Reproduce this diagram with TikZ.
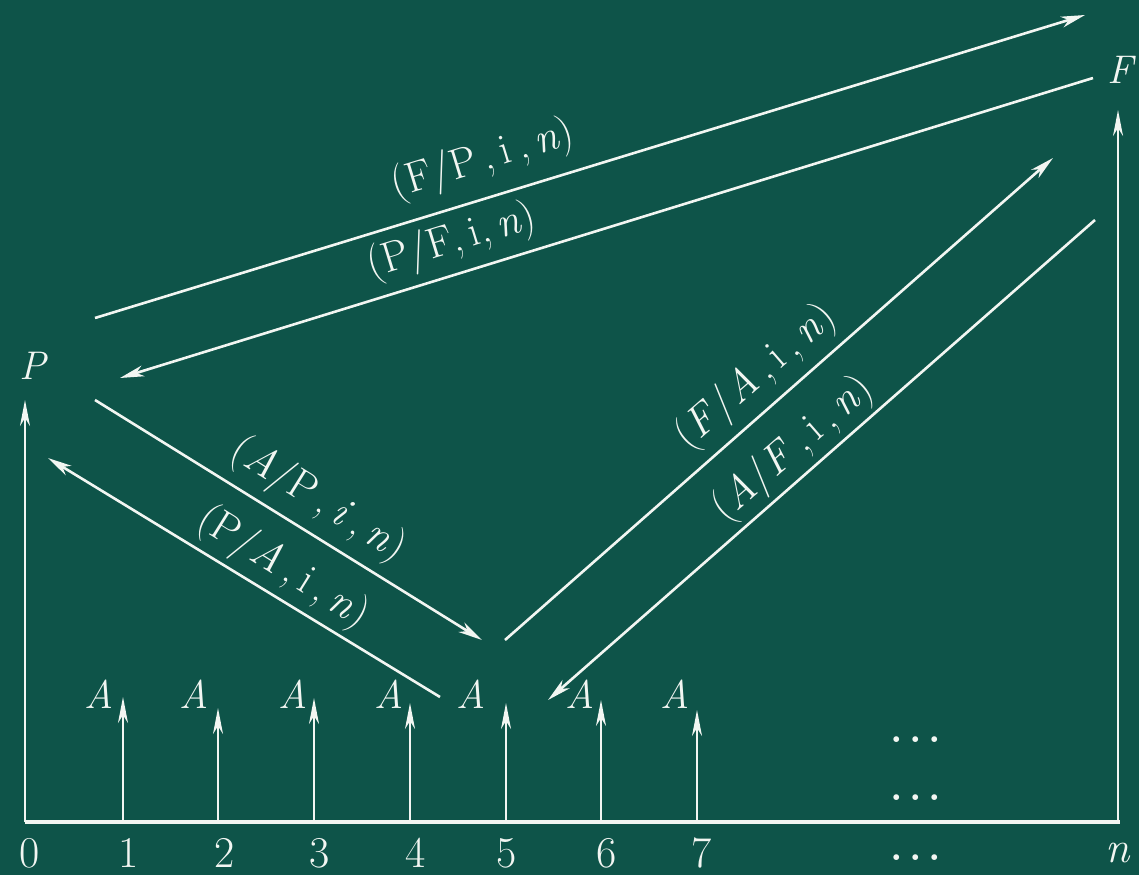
\documentclass[tikz,border=0pt]{standalone}
\usetikzlibrary{arrows.meta}
\definecolor{board}{RGB}{14,84,73}
\definecolor{chalk}{RGB}{242,246,242}
\begin{document}
\begin{tikzpicture}[x=1pt,y=-1pt,
  chalkline/.style={draw=chalk, line width=2.6pt},
  bigarr/.style={chalkline, -{Stealth[length=24pt,width=11pt,inset=7pt]}},
  smallarr/.style={chalkline, line width=2.4pt, -{Stealth[length=26pt,width=10pt,inset=8pt]}},
  lbl/.style={text=chalk, inner sep=0pt, font=\fontsize{43}{45}\selectfont},
  tick/.style={text=chalk, inner sep=0pt, font=\fontsize{44}{46}\selectfont},
  aval/.style={text=chalk, inner sep=0pt, font=\fontsize{40}{42}\selectfont\itshape},
  dots/.style={text=chalk, inner sep=0pt, font=\fontsize{40}{42}\selectfont\bfseries}]
\fill[board] (0,0) rectangle (1139,875);
\useasboundingbox (0,0) rectangle (1139,875);

% axis
\coordinate (o) at (25,822);
\coordinate (e) at (1120,822);
\draw[chalk, line width=4.5pt] (o) -- (e);

% verticals
\coordinate (ptip) at (25,400);
\coordinate (ftip) at (1118,110);
\coordinate (ebase) at (1118,822);
\draw[smallarr] (o) -- (ptip);
\draw[smallarr] (ebase) -- (ftip);
\node[aval] (P) at (33,366) {P};
\node[aval] (F) at (1120,70) {F};

% small arrows
\foreach \i/\x/\t/\ax in {1/123/697/99, 2/218/708/194, 3/314/698/293, 4/410/703/389, 5/506/703/471, 6/601/700/580, 7/697/710/675}{
  \coordinate (b\i) at (\x,822);
  \coordinate (t\i) at (\x,\t);
  \draw[smallarr] (b\i) -- (t\i);
  \node[aval] (a\i) at (\ax,694) {A};
}

% numbers
\node[tick] (n0) at (30,853) {0};
\node[tick] (n1) at (129,853) {1};
\node[tick] (n2) at (225,853) {2};
\node[tick] (n3) at (320,853) {3};
\node[tick] (n4) at (416,853) {4};
\node[tick] (n5) at (507,853) {5};
\node[tick] (n6) at (607,853) {6};
\node[tick] (n7) at (702,853) {7};
\node[tick,font=\fontsize{44}{46}\selectfont\itshape] (nn) at (1118,853) {n};
\node[dots] (d1) at (916,740) {.\,.\,.};
\node[dots] (d2) at (916,798) {.\,.\,.};
\node[dots] (d3) at (916,858) {.\,.\,.};

% diagonal connectors
\coordinate (fp1) at (95,318);   \coordinate (fp2) at (1085,15);
\coordinate (pf1) at (1093,78);  \coordinate (pf2) at (120,378);
\coordinate (ap1) at (95,400);   \coordinate (ap2) at (482,640);
\coordinate (pa1) at (440,697);  \coordinate (pa2) at (48,458);
\coordinate (fa1) at (505,640);  \coordinate (fa2) at (1053,158);
\coordinate (af1) at (1095,220); \coordinate (af2) at (548,700);
\draw[bigarr] (fp1) -- (fp2);
\draw[bigarr] (pf1) -- (pf2);
\draw[bigarr] (ap1) -- (ap2);
\draw[bigarr] (pa1) -- (pa2);
\draw[bigarr] (fa1) -- (fa2);
\draw[bigarr] (af1) -- (af2);

% labels
\node[lbl, rotate=17] (lfp) at (483,160) {(F/P\,,\,i\,,\,\textit{n})};
\node[lbl, rotate=17] (lpf) at (452,242) {(P/F,\,i,\,\textit{n})};
\node[lbl, rotate=-32] (lap) at (318,500) {(\textit{A}/P\,,\,\textit{i}\,,\,\textit{n})};
\node[lbl, rotate=-32] (lpa) at (283,568) {(P/\textit{A}\,,\,i\,,\,\textit{n})};
\node[lbl, rotate=41] (lfa) at (756,377) {(\textit{F}/\textit{A}\,,\,i\,,\,\textit{n})};
\node[lbl, rotate=41] (laf) at (793,449) {(\textit{A}/\textit{F}\,,\,i\,,\,\textit{n})};
\end{tikzpicture}
\end{document}
